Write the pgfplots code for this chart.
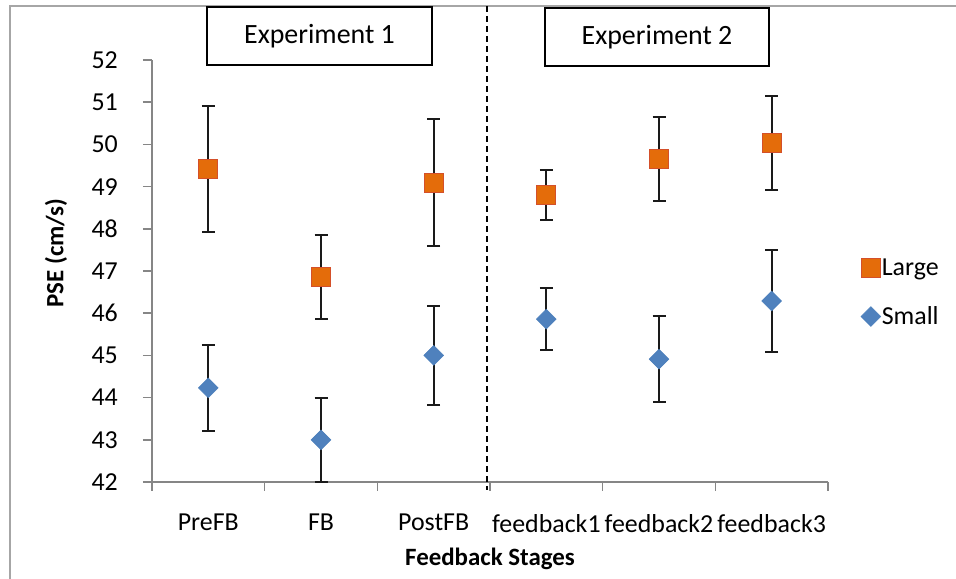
\documentclass[border=0pt]{standalone}
\usepackage{pgfplots}
\pgfplotsset{compat=1.18}
\usepackage{pgfplotstable}
\usepackage{fontspec}
\setmainfont{Carlito}
\definecolor{orng}{HTML}{E46C0A}
\definecolor{orngedge}{HTML}{D4502A}
\definecolor{blu}{HTML}{4F81BD}
\definecolor{bluedge}{HTML}{4A7EBB}
\definecolor{axgray}{HTML}{868686}
\definecolor{framegray}{HTML}{A6A6A6}
\definecolor{errc}{HTML}{1A1A1A}

\pgfplotstableread{
x y e
1 49.42 1.50
2 46.86 1.00
3 49.09 1.50
4 48.80 0.60
5 49.65 1.00
6 50.03 1.12
}\largetab

\pgfplotstableread{
x y e
1 44.23 1.02
2 43.00 1.00
3 45.00 1.18
4 45.86 0.73
5 44.91 1.02
6 46.29 1.20
}\smalltab

\begin{document}
\begin{tikzpicture}[x=1bp,y=1bp]
\fill[white] (0bp,0bp) rectangle (956bp,579bp);
\draw[framegray, line width=2bp] (10bp,0bp) -- (10bp,573bp) -- (956bp,573bp);
\begin{axis}[
  at={(152bp,97bp)}, anchor=south west,
  scale only axis, width=676bp, height=422bp,
  xmin=0.5, xmax=6.5, ymin=42, ymax=52,
  clip=false,
  axis x line*=bottom, axis y line*=left,
  axis line style={axgray, line width=1.5bp},
  tick style={axgray, line width=1.5bp},
  tick align=outside,
  major tick length=9bp,
  xtick={0.5,1.5,...,5.5},
  xticklabels={PreFB,FB,PostFB,feedback1,feedback2,feedback3},
  xticklabel style={anchor=north, inner sep=0pt, xshift=56.33bp, yshift=-23bp},
  extra x ticks={6.5}, extra x tick labels={},
  ytick={42,43,...,52},
  yticklabel style={anchor=east, inner sep=0pt, xshift=-25bp},
  /pgf/number format/assume math mode=true,
  ticklabel style={font=\fontsize{26}{30}\selectfont, black},
  ylabel={\textbf{PSE (cm/s)}},
  ylabel style={at={(axis description cs:-0.142,0.543)}, anchor=center, font=\fontsize{25}{30}\selectfont},
  xlabel={\textbf{Feedback Stages}},
  xlabel style={at={(axis description cs:0.5,-0.183)}, anchor=center, font=\fontsize{25}{30}\selectfont},
  legend style={at={(axis description cs:1.0488,0.449)}, anchor=west, draw=none, fill=none,
    inner sep=0pt, outer sep=0pt, row sep=28bp,
    font=\fontsize{26}{30}\selectfont,
    nodes={inner sep=1bp}},
  legend cell align=left,
  legend image code/.code={\draw[mark repeat=2,mark phase=2,#1] plot coordinates {(0bp,0bp)(9bp,0bp)(18bp,0bp)};},
  error bars/y dir=both, error bars/y explicit,
  error bars/error mark options={errc, mark size=6.5bp, line width=2bp, rotate=90},
  error bars/error bar style={errc, line width=2bp},
]
\addplot+[only marks, mark=square*, mark size=9.5bp,
  mark options={fill=orng, draw=orngedge, line width=0.8bp}]
  table[x=x, y=y, y error=e] {\largetab};
\addlegendentry{Large}
\addplot+[only marks, mark=square*, mark size=7bp,
  mark options={fill=blu, draw=bluedge, line width=0.5bp, rotate=45}]
  table[x=x, y=y, y error=e] {\smalltab};
\addlegendentry{Small}
\end{axis}
\draw[black, dash pattern=on 6bp off 4bp, line width=1.2bp] (487bp,573bp) -- (487bp,89bp);
\node[draw=black, line width=1.2bp, fill=white, minimum width=225bp, minimum height=58bp,
  font=\fontsize{28}{32}\selectfont] at (319.5bp,543bp) {Experiment 1};
\node[draw=black, line width=1.2bp, fill=white, minimum width=224bp, minimum height=58bp,
  font=\fontsize{28}{32}\selectfont] at (657bp,542bp) {Experiment 2};
\pgfresetboundingbox
\path[use as bounding box] (0bp,0bp) rectangle (956bp,579bp);
\end{tikzpicture}
\end{document}
